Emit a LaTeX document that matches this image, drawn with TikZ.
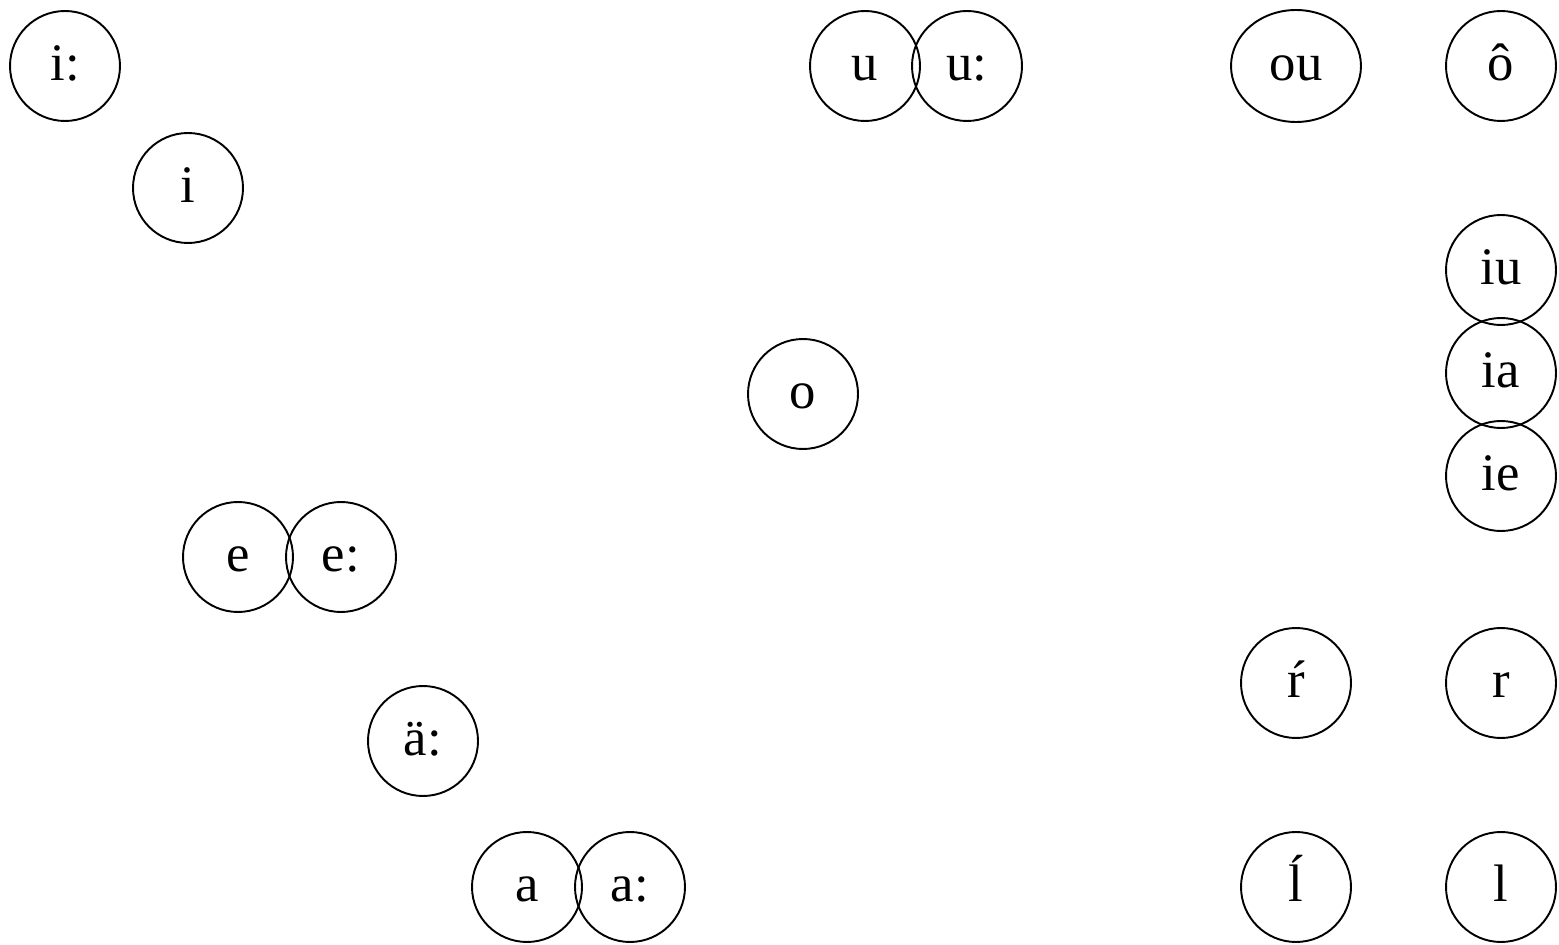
\documentclass[tikz,border=0pt]{standalone}
\usepackage{fontspec}
\setmainfont{Liberation Serif}
\usetikzlibrary{shapes.geometric}

\begin{document}
\begin{tikzpicture}[x=0.02cm,y=-0.02cm,
    vowel/.style={draw,circle,line width=1.1pt,minimum size=2.2cm,inner sep=0pt,
        text height=19pt,text depth=2pt,font=\fontsize{30}{34}\selectfont},
    diph/.style={vowel,ellipse,minimum width=2.6cm,minimum height=2.24cm}]

\useasboundingbox (0,0) rectangle (1559,945);

% front vowels
\node[vowel] (ilong) at (65,66) {i:};
\node[vowel] (ishort) at (188,188) {i};
\node[vowel] (eshort) at (238,557) {e};
\node[vowel] (elong) at (341,557) {e:};
\node[vowel] (aelong) at (423,741) {ä:};
\node[vowel] (ashort) at (527,887) {a};
\node[vowel] (along) at (630,887) {a:};

% back vowels
\node[vowel] (ushort) at (865,66) {u};
\node[vowel] (ulong) at (967,66) {u:};
\node[vowel] (oshort) at (803,394) {o};

% diphthongs
\node[diph] (ou) at (1296,66) {ou};
\node[vowel] (uo) at (1501,66) {ô};
\node[vowel] (iu) at (1501,270) {iu};
\node[vowel] (ia) at (1501,373) {ia};
\node[vowel] (ie) at (1501,476) {ie};

% syllabic liquids
\node[vowel] (rlong) at (1296,683) {ŕ};
\node[vowel] (rshort) at (1501,683) {r};
\node[vowel] (llong) at (1296,887) {ĺ};
\node[vowel] (lshort) at (1501,887) {l};

\end{tikzpicture}
\end{document}
